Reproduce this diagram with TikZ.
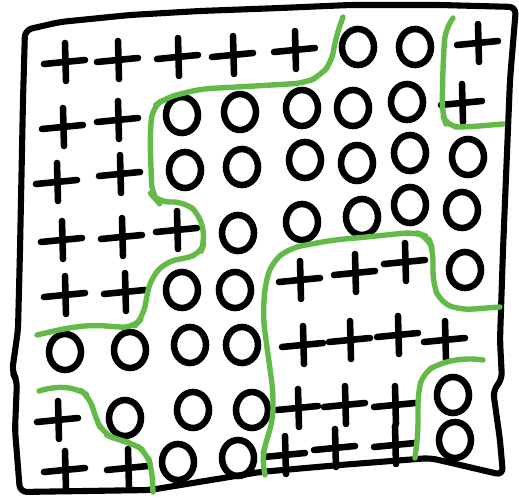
\documentclass[tikz,border=0pt]{standalone}
\usepackage{tikz}
\definecolor{chalkgreen}{RGB}{100,186,72}
\begin{document}
\begin{tikzpicture}[x=0.03cm,y=-0.03cm,
  frameline/.style={line width=5.2pt,line cap=round,line join=round,rounded corners=6pt},
  markline/.style={line width=5.6pt,line cap=round},
  border/.style={chalkgreen,line width=4.6pt,line cap=round,line join=round,rounded corners=10pt},
  crossmark/.pic={\draw[markline] (-21,2) -- (20,-2); \draw[markline] (0,-19) -- (1,19);},
  ringmark/.pic={\draw[markline] (0,0) ellipse [x radius=16, y radius=18];}
]
\useasboundingbox (0,0) rectangle (519,499);

% Frame
\draw[frameline] (25,30) -- (60,22) -- (130,15) -- (200,11) -- (280,8) -- (350,5)
  -- (440,5) -- (516,7) -- (510,80) -- (503,250) -- (500,340) -- (502,380)
  -- (493,390) -- (500,440) -- (503,475) -- (430,458) -- (340,465) -- (260,472)
  -- (150,490) -- (20,492) -- (15,430) -- (17,380) -- (12,372) -- (18,330)
  -- (20,250) -- (23,100) -- cycle;

% Plus marks
\foreach \x/\y in {65/62,118/60,178/57,233/55,295/50,478/43,
  63/127,118/120,462/103, 57/182,120/174,
  62/240,122/237,177/230, 65/295,125/292,300/280,355/273,405/262,
  303/345,350/340,398/335,445/340, 58/420,298/408,345/405,395/405,
  65/470,128/468,285/455,335/448,395/445}
  \pic at (\x,\y) {crossmark};

% Ring marks
\foreach \x/\y in {358/47,415/47,
  182/115,240/112,302/108,353/108,407/102,
  185/170,242/167,305/160,357/163,410/153,468/157,
  238/233,302/222,362/217,410/205,462/210,
  182/290,235/290,465/270, 65/352,130/350,190/345,242/345,
  125/418,193/410,252/410,453/395, 178/462,238/458,455/440}
  \pic at (\x,\y) {ringmark};

% Green boundaries
\draw[border] (343,17) -- (335,40) -- (332,62) -- (320,76) -- (305,83) -- (255,86)
  -- (200,89) -- (165,98) -- (152,108) -- (150,140) -- (152,195) -- (158,202)
  -- (185,202) -- (200,215) -- (205,240) -- (200,255) -- (165,262) -- (150,280)
  -- (143,317) -- (133,328) -- (93,325) -- (67,328) -- (37,335);
\draw[border] (453,18) -- (445,30) -- (443,67) -- (442,113) -- (447,127)
  -- (467,127) -- (503,124);
\draw[border] (500,307) -- (460,310) -- (440,302) -- (433,283) -- (433,250)
  -- (428,237) -- (415,232) -- (367,237) -- (333,240) -- (290,248) -- (272,262)
  -- (265,285) -- (263,317) -- (268,355) -- (273,390) -- (273,420) -- (266,442)
  -- (262,458) -- (265,475);
\draw[border] (42,390) -- (50,387) -- (77,388) -- (90,397) -- (95,417)
  -- (103,433) -- (117,440) -- (133,443) -- (147,453) -- (152,470) -- (153,492);
\draw[border] (483,360) -- (467,358) -- (440,363) -- (423,373) -- (418,393)
  -- (418,433) -- (415,458);

\end{tikzpicture}
\end{document}
